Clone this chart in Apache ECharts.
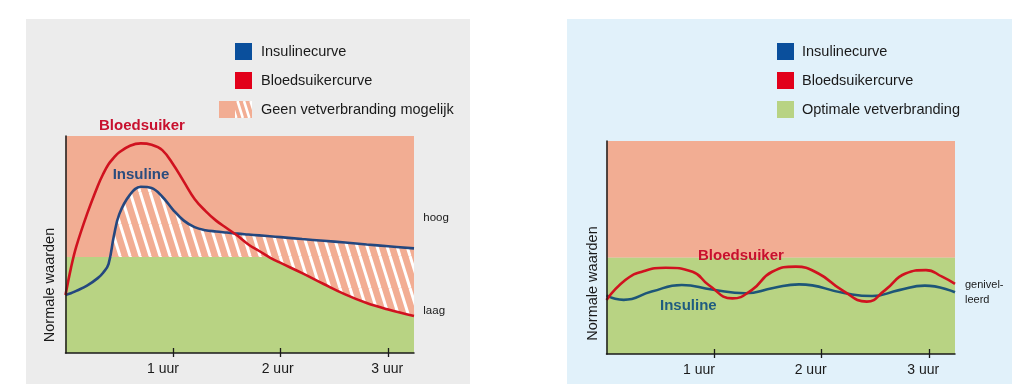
<!DOCTYPE html>
<html><head><meta charset="utf-8">
<script src="https://cdn.jsdelivr.net/npm/echarts@6/dist/echarts.min.js"></script>
<style>html,body{margin:0;padding:0;background:#fff}#c{width:1026px;height:384px}</style>
</head><body><div id="c"></div>
<script>
// ---------- DATA ----------
const tickHours = [1, 2, 3];
const tickLabels = ['1 uur', '2 uur', '3 uur'];

// Left chart (uncontrolled): time in hours, values in % of plot height
const hoursLeft   = [0, 0.05, 0.1, 0.2, 0.3, 0.35, 0.4, 0.45, 0.5, 0.6, 0.7, 0.8, 0.9, 1.0, 1.1, 1.2, 1.3, 1.4, 1.5, 1.6, 1.7, 1.8, 1.9, 2.0, 2.2, 2.4, 2.6, 2.8, 3.0, 3.24];
const bloodLeft   = [26.7, 39, 49, 64, 77, 82.5, 87, 90, 92.5, 95.5, 96.6, 96, 93.5, 87, 79, 71, 65.5, 61, 57.5, 54, 50, 47, 44, 41.5, 36.8, 31.8, 27, 23, 20, 17];
const insulinLeft = [26.7, 27.5, 28.6, 31, 34.5, 37, 41, 54, 64, 73, 76.6, 76, 72, 66, 61, 58, 56.6, 56, 55.5, 55, 54.6, 54.2, 53.8, 53.4, 52.5, 51.7, 50.9, 50, 49.2, 48.2];
const thresholdLeft = 44.2;

// Right chart (levelled)
const bloodRightX   = [0, 0.175, 0.33, 0.55, 0.8, 0.95, 1.17, 1.35, 1.54, 1.76, 1.97, 2.19, 2.42, 2.59, 2.78, 2.97, 3.12, 3.24];
const bloodRightY   = [25.4, 34.7, 38.6, 40.5, 38.6, 32.4, 26.1, 30, 38.6, 41, 37.8, 30, 24.6, 30, 37.8, 39.4, 36.3, 32.9];
const insulinRightX = [0, 0.16, 0.42, 0.7, 0.98, 1.29, 1.55, 1.79, 2.22, 2.47, 2.72, 2.96, 3.24];
const insulinRightY = [27.5, 25.4, 29.3, 32.4, 30.3, 28.5, 31, 32.7, 28.5, 27.2, 30, 32.1, 29];
const thresholdRight = 45.2;

const legendLeft  = ['Insulinecurve', 'Bloedsuikercurve', 'Geen vetverbranding mogelijk'];
const legendRight = ['Insulinecurve', 'Bloedsuikercurve', 'Optimale vetverbranding'];

// ---------- STYLE ----------
const FONT = '"Liberation Sans", Arial, sans-serif';
const SALMON = '#F2AD93', GREEN = '#B8D383';
const RED_LINE = '#D0121F', BLUE_LINE_L = '#24477F', BLUE_LINE_R = '#1D5678';
const LEG_BLUE = '#0A4F9C', LEG_RED = '#E2001A';
const AXIS = '#1a1a1a';
const labelShiftLeft = [-10, -3, -1];
const labelShiftRight = [-15, -11, -6];

function makePattern() {
  const c = document.createElement('canvas'); c.width = 10; c.height = 32;
  const g = c.getContext('2d'); g.fillStyle = SALMON; g.fillRect(0, 0, 10, 32);
  g.strokeStyle = '#fff'; g.lineWidth = 3;
  for (let dx = -10; dx <= 10; dx += 10) { g.beginPath(); g.moveTo(dx, 0); g.lineTo(dx + 10, 32); g.stroke(); }
  return c;
}
function iconSquare(color) {
  const c = document.createElement('canvas'); c.width = 33; c.height = 17;
  const g = c.getContext('2d'); g.fillStyle = color; g.fillRect(16, 0, 17, 17);
  return 'image://' + c.toDataURL();
}
function iconHatch() {
  const c = document.createElement('canvas'); c.width = 33; c.height = 17;
  const g = c.getContext('2d'); g.fillStyle = SALMON; g.fillRect(0, 0, 33, 17);
  g.save(); g.beginPath(); g.rect(16, 0, 17, 17); g.clip();
  g.strokeStyle = '#fff'; g.lineWidth = 2.6;
  for (let dx = 12; dx < 40; dx += 6.5) { g.beginPath(); g.moveTo(dx, 0); g.lineTo(dx + 5.3, 17); g.stroke(); }
  g.restore();
  return 'image://' + c.toDataURL();
}
const pattern = makePattern();

function pairs(xs, ys) { return xs.map((x, i) => [x, ys[i]]); }
// lower edge of the hatched zone: the lower of threshold and blood sugar
const hatchFloor = hoursLeft.map((x, i) => [x, Math.min(thresholdLeft, bloodLeft[i])]);

function xAxes(gridIndex, shifts) {
  const rich = {};
  shifts.forEach((s, i) => { rich['p' + i] = { fontSize: 14, fontFamily: FONT, color: AXIS, padding: s < 0 ? [0, -2 * s, 0, 0] : [0, 0, 0, 2 * s] }; });
  return [{
    type: 'value', gridIndex, min: 0, max: 3.24, z: 10,
    axisLine: { show: true, onZero: false, lineStyle: { color: AXIS, width: 1.5 } },
    axisTick: { show: true, customValues: tickHours, length: 4, lineStyle: { color: AXIS, width: 1.3 } },
    axisLabel: {
      show: true, customValues: tickHours, margin: 9,
      formatter: v => { const i = tickHours.indexOf(Math.round(v)); return i < 0 ? '' : '{p' + i + '|' + tickLabels[i] + '}'; },
      rich
    },
    splitLine: { show: false }
  }, {
    type: 'value', gridIndex, min: 0, max: 3.24, position: 'bottom', z: 10,
    axisLine: { show: false },
    axisTick: { show: true, inside: true, customValues: tickHours, length: 5, lineStyle: { color: AXIS, width: 1.3 } },
    axisLabel: { show: false }, splitLine: { show: false }
  }];
}
function yAxis(gridIndex) {
  return { type: 'value', gridIndex, min: 0, max: 100, z: 10,
    axisLine: { show: true, lineStyle: { color: AXIS, width: 1.5 } },
    axisTick: { show: false }, axisLabel: { show: false }, splitLine: { show: false } };
}
function zones(thr) {
  return { silent: true, data: [
    [{ yAxis: thr, itemStyle: { color: SALMON } }, { yAxis: 100 }],
    [{ yAxis: 0, itemStyle: { color: GREEN } }, { yAxis: thr }]
  ] };
}
function txt(text, x, y, opt) {
  return { type: 'text', z: 100, silent: true, x, y, rotation: opt.rot || 0,
    style: Object.assign({ text, fontFamily: FONT, fontSize: 14, fill: AXIS, align: 'left', verticalAlign: 'middle' }, opt.style || {}) };
}

const chart = echarts.init(document.getElementById('c'), null, { renderer: 'canvas' });
chart.setOption({
  animation: false,
  graphic: [
    { type: 'rect', z: -10, silent: true, shape: { x: 26, y: 19, width: 444, height: 365 }, style: { fill: '#ECECEC' } },
    { type: 'rect', z: -10, silent: true, shape: { x: 567, y: 19, width: 445, height: 365 }, style: { fill: '#E1F1FA' } },
    txt('Bloedsuiker', 99, 126, { style: { fontSize: 15, fontWeight: 'bold', fill: '#C8102E' } }),
    txt('Insuline', 112.7, 175, { style: { fontSize: 15, fontWeight: 'bold', fill: '#2B4C7E' } }),
    txt('hoog', 423.3, 218, { style: { fontSize: 11.5 } }),
    txt('laag', 423.3, 310.7, { style: { fontSize: 11.5 } }),
    txt('Normale waarden', 50, 285, { rot: Math.PI / 2, style: { fontSize: 14.5, align: 'center' } }),
    txt('Bloedsuiker', 698, 256, { style: { fontSize: 15, fontWeight: 'bold', fill: '#C8102E' } }),
    txt('Insuline', 660, 306, { style: { fontSize: 15, fontWeight: 'bold', fill: '#1F5C80' } }),
    txt('genivel-', 965, 285, { style: { fontSize: 11 } }),
    txt('leerd', 965, 300, { style: { fontSize: 11 } }),
    txt('Normale waarden', 593, 283.5, { rot: Math.PI / 2, style: { fontSize: 14.5, align: 'center' } })
  ],
  legend: [
    { left: 214, top: 38, orient: 'vertical', itemWidth: 33, itemHeight: 17, itemGap: 12, selectedMode: false,
      textStyle: { fontFamily: FONT, fontSize: 14.5, color: AXIS, padding: [0, 0, 0, 4] },
      data: [
        { name: legendLeft[0], icon: iconSquare(LEG_BLUE) },
        { name: legendLeft[1], icon: iconSquare(LEG_RED) },
        { name: legendLeft[2], icon: iconHatch() }
      ] },
    { left: 756, top: 38, orient: 'vertical', itemWidth: 33, itemHeight: 17, itemGap: 12, selectedMode: false,
      textStyle: { fontFamily: FONT, fontSize: 14.5, color: AXIS, padding: [0, 0, 0, 3] },
      data: [
        { name: legendRight[0], icon: iconSquare(LEG_BLUE) },
        { name: legendRight[1], icon: iconSquare(LEG_RED) },
        { name: legendRight[2], icon: iconSquare(GREEN) }
      ] }
  ],
  grid: [
    { left: 65.5, top: 136, width: 348.5, height: 217 },
    { left: 606.5, top: 141, width: 348.5, height: 213 }
  ],
  xAxis: [...xAxes(0, labelShiftLeft), ...xAxes(1, labelShiftRight)],
  yAxis: [yAxis(0), yAxis(1)],
  series: [
    { name: 'zonesLeft', type: 'line', xAxisIndex: 0, yAxisIndex: 0, data: [], silent: true, z: 1, markArea: zones(thresholdLeft) },
    // hatched area under the insulin curve ...
    { name: legendLeft[2], type: 'line', xAxisIndex: 0, yAxisIndex: 0, smooth: 0.4, symbol: 'none', silent: true, z: 2,
      lineStyle: { width: 0 }, itemStyle: { color: SALMON }, areaStyle: { color: { image: pattern, repeat: 'repeat' }, opacity: 1 },
      data: pairs(hoursLeft, insulinLeft) },
    // ... covered by the green zone below min(threshold, blood sugar)
    { name: 'hatchFloor', type: 'line', xAxisIndex: 0, yAxisIndex: 0, smooth: 0.4, symbol: 'none', silent: true, z: 3,
      lineStyle: { width: 0 }, areaStyle: { color: GREEN, opacity: 1 }, data: hatchFloor },
    { name: legendLeft[0], type: 'line', xAxisIndex: 0, yAxisIndex: 0, smooth: 0.4, symbol: 'none', z: 4,
      itemStyle: { color: LEG_BLUE }, lineStyle: { color: BLUE_LINE_L, width: 2.6 }, data: pairs(hoursLeft, insulinLeft) },
    { name: legendLeft[1], type: 'line', xAxisIndex: 0, yAxisIndex: 0, smooth: 0.4, symbol: 'none', z: 5,
      itemStyle: { color: LEG_RED }, lineStyle: { color: RED_LINE, width: 2.6 }, data: pairs(hoursLeft, bloodLeft) },

    { name: legendRight[2], type: 'line', xAxisIndex: 2, yAxisIndex: 1, data: [], silent: true, z: 1,
      itemStyle: { color: GREEN }, markArea: zones(thresholdRight) },
    { name: legendRight[0], type: 'line', xAxisIndex: 2, yAxisIndex: 1, smooth: 0.5, symbol: 'none', z: 4,
      itemStyle: { color: LEG_BLUE }, lineStyle: { color: BLUE_LINE_R, width: 2.6 }, data: pairs(insulinRightX, insulinRightY) },
    { name: legendRight[1], type: 'line', xAxisIndex: 2, yAxisIndex: 1, smooth: 0.5, symbol: 'none', z: 5,
      itemStyle: { color: LEG_RED }, lineStyle: { color: RED_LINE, width: 2.6 }, data: pairs(bloodRightX, bloodRightY) }
  ]
});
</script></body></html>
